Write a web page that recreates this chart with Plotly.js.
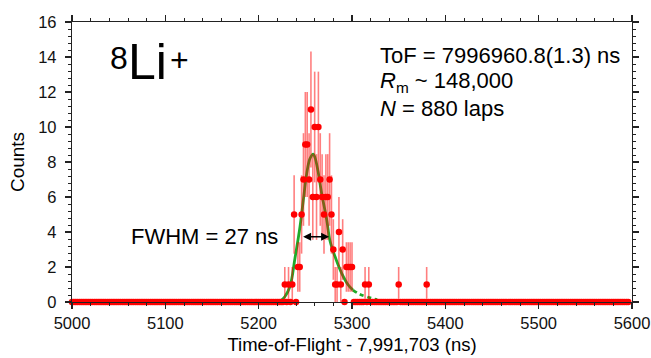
<!DOCTYPE html>
<html>
<head>
<meta charset="utf-8">
<script src="https://cdn.plot.ly/plotly-3.0.1.min.js"></script>
<style>
  html, body { margin: 0; padding: 0; background: #fff; }
  #chart { width: 651px; height: 358px; }
</style>
</head>
<body>
<div id="chart"></div>
<script>
// ---------- data ----------
// Histogram of 2-ns bins; every bin not listed below holds 0 counts.
const binFirst = 4998;
const binLast = 5596;
const binWidth = 2;
const peakBins = [
  5228, 5232, 5236, 5238,
  5242, 5244, 5246, 5248, 5250, 5252, 5254, 5256, 5258, 5260,
  5262, 5264, 5266, 5268, 5270, 5272, 5274, 5276, 5278, 5280,
  5282, 5284, 5286, 5288, 5290, 5294, 5296, 5298, 5300,
  5314, 5318, 5350, 5380
];
const peakCounts = [
  1, 1, 1, 5,
  2, 2, 5, 7, 9, 9, 7, 11, 6, 10,
  6, 10, 7, 6, 5, 6, 6, 7, 5, 3,
  1, 1, 4, 1, 3, 2, 2, 2, 2,
  1, 1, 1, 1
];

// Fitted curve (solid inside the fit window, dashed extension)
const fitSolidX = [5223, 5228, 5233.6, 5238.9, 5244.3, 5247.8, 5251.5, 5255, 5258.5, 5260.4, 5263.5, 5267.5, 5272.9, 5276.4, 5281.8, 5289, 5296, 5301];
const fitSolidY = [0.05, 0.3, 0.9, 2.5, 4.3, 5.8, 7.35, 8.2, 8.45, 8.25, 7.5, 6.2, 4.7, 3.5, 2.6, 1.64, 0.97, 0.68];
const fitDashX = [5301, 5308, 5315.7, 5322, 5327];
const fitDashY = [0.68, 0.45, 0.3, 0.2, 0.14];

// FWHM arrow ends (ns) and level (counts)
const fwhmLeft = 5246;
const fwhmRight = 5275.5;
const fwhmLevel = 3.73;

const xTitle = 'Time-of-Flight - 7,991,703 (ns)';
const yTitle = 'Counts';
const tofLine = 'ToF = 7996960.8(1.3) ns';
const resLine = '<i>R</i><sub>m</sub> ~ 148,000';
const lapsLine = '<i>N</i> = 880 laps';
const fwhmLabel = 'FWHM = 27 ns';

// ---------- build histogram arrays ----------
const histX = [];
const histY = [];
const lookup = {};
peakBins.forEach((b, i) => { lookup[b] = peakCounts[i]; });
for (let b = binFirst; b <= binLast; b += binWidth) {
  histX.push(b);
  histY.push(lookup[b] !== undefined ? lookup[b] : 0);
}
const histErr = histY.map(v => Math.sqrt(v));

const FONT = 'Liberation Sans, Arial, Helvetica, sans-serif';
const GREEN = '#1faa28';

const traces = [
  {
    x: fitSolidX, y: fitSolidY, type: 'scatter', mode: 'lines',
    line: { color: GREEN, width: 2.8, shape: 'spline', smoothing: 1 },
    hoverinfo: 'skip', showlegend: false
  },
  {
    x: fitDashX, y: fitDashY, type: 'scatter', mode: 'lines',
    line: { color: GREEN, width: 2.8, dash: '4px,4px', shape: 'spline', smoothing: 1 },
    hoverinfo: 'skip', showlegend: false
  },
  {
    x: histX, y: histY, type: 'scatter', mode: 'markers',
    cliponaxis: false,
    marker: { color: '#ff0000', size: 6.5, line: { width: 0 } },
    error_y: { type: 'data', array: histErr, visible: true,
               color: 'rgba(255,0,0,0.5)', thickness: 1.6, width: 0 },
    showlegend: false
  }
];

function px2x(px) { return (px - 72) / 560; }
function px2y(py) { return (302 - py) / 280; }

const annotations = [
  { text: '8', xref: 'paper', yref: 'paper', x: px2x(108), y: px2y(58), xanchor: 'left', yanchor: 'middle',
    showarrow: false, font: { family: FONT, size: 32, color: '#000' } },
  { text: 'Li', xref: 'paper', yref: 'paper', x: px2x(126), y: px2y(62), xanchor: 'left', yanchor: 'middle',
    showarrow: false, font: { family: FONT, size: 50, color: '#000' } },
  { text: '+', xref: 'paper', yref: 'paper', x: px2x(168), y: px2y(60), xanchor: 'left', yanchor: 'middle',
    showarrow: false, font: { family: FONT, size: 32, color: '#000' } },
  { text: tofLine, xref: 'paper', yref: 'paper', x: px2x(378), y: px2y(55), xanchor: 'left', yanchor: 'middle',
    showarrow: false, font: { family: FONT, size: 22, color: '#000' } },
  { text: resLine, xref: 'paper', yref: 'paper', x: px2x(378), y: px2y(82), xanchor: 'left', yanchor: 'middle',
    showarrow: false, font: { family: FONT, size: 22, color: '#000' } },
  { text: lapsLine, xref: 'paper', yref: 'paper', x: px2x(378), y: px2y(108), xanchor: 'left', yanchor: 'middle',
    showarrow: false, font: { family: FONT, size: 22, color: '#000' } },
  { text: fwhmLabel, xref: 'paper', yref: 'paper', x: px2x(129), y: px2y(236), xanchor: 'left', yanchor: 'middle',
    showarrow: false, font: { family: FONT, size: 22, color: '#000' } },
  { text: '', x: fwhmRight, y: fwhmLevel, ax: fwhmLeft, ay: fwhmLevel, xref: 'x', yref: 'y', axref: 'x', ayref: 'y',
    showarrow: true, arrowside: 'end+start', arrowhead: 2, startarrowhead: 2, arrowsize: 1, startarrowsize: 1,
    arrowwidth: 1.6, arrowcolor: '#000', standoff: 0, startstandoff: 0 }
];

const axisCommon = {
  showline: true, linecolor: '#222', linewidth: 1.2, mirror: 'allticks',
  ticks: 'outside', ticklen: 6, tickwidth: 1.2, tickcolor: '#222',
  showgrid: false, zeroline: false,
  tickfont: { family: FONT, size: 16.5, color: '#111' }
};

const layout = {
  width: 651, height: 358,
  margin: { l: 72, r: 19, t: 22, b: 56 },
  paper_bgcolor: '#fff', plot_bgcolor: '#fff',
  font: { family: FONT, color: '#000' },
  xaxis: Object.assign({}, axisCommon, {
    range: [5000, 5600], dtick: 100, tick0: 5000,
    minor: { dtick: 20, ticks: 'outside', ticklen: 3, tickcolor: '#222', tickwidth: 1 },
    title: { text: xTitle, font: { family: FONT, size: 18.5, color: '#000' }, standoff: 7 }
  }),
  yaxis: Object.assign({}, axisCommon, {
    range: [0, 16], dtick: 2, tick0: 0,
    ticklabelstandoff: 5,
    minor: { dtick: 0.4, ticks: 'outside', ticklen: 3, tickcolor: '#222', tickwidth: 1 },
    title: { text: yTitle, font: { family: FONT, size: 19, color: '#000' }, standoff: 8 }
  }),
  annotations: annotations,
  showlegend: false
};

Plotly.newPlot('chart', traces, layout, { displayModeBar: false, staticPlot: true });
</script>
</body>
</html>
